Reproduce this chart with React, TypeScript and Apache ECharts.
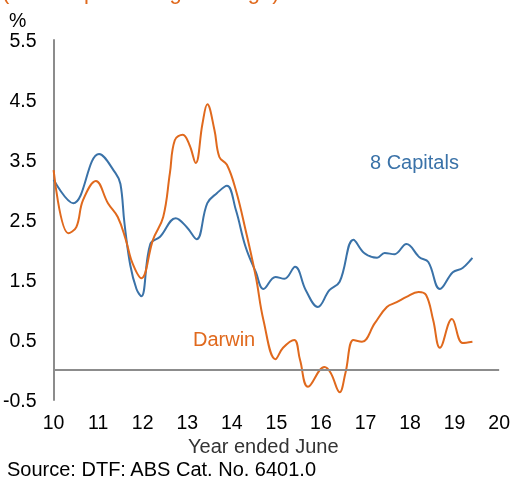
import React, { useEffect, useRef } from "react";
import * as echarts from "echarts";

const capitalsX = [10.0, 10.44, 11.02, 11.39, 11.5, 11.59, 11.72, 11.86, 11.97, 12.17, 12.39, 12.74, 12.99, 13.21, 13.45, 13.67, 13.89, 14.09, 14.31, 14.54, 14.71, 14.98, 15.18, 15.42, 15.66, 15.93, 16.19, 16.42, 16.73, 16.97, 17.26, 17.43, 17.65, 17.92, 18.21, 18.41, 18.67, 18.96, 19.18, 19.4];
const capitalsY = [3.17, 2.78, 3.6, 3.28, 3.1, 2.45, 1.75, 1.35, 1.23, 2.1, 2.22, 2.53, 2.38, 2.18, 2.78, 2.95, 3.07, 2.67, 2.05, 1.63, 1.35, 1.55, 1.52, 1.72, 1.33, 1.05, 1.33, 1.47, 2.17, 1.95, 1.87, 1.95, 1.93, 2.1, 1.88, 1.8, 1.35, 1.63, 1.7, 1.87];

const darwinX = [10.0, 10.33, 10.51, 10.66, 10.95, 11.22, 11.44, 11.62, 11.77, 11.97, 12.23, 12.46, 12.61, 12.72, 12.9, 13.05, 13.19, 13.34, 13.45, 13.61, 13.72, 13.89, 14.09, 14.31, 14.54, 14.71, 14.98, 15.15, 15.4, 15.53, 15.71, 16.08, 16.22, 16.42, 16.55, 16.73, 16.92, 17.21, 17.48, 17.7, 17.92, 18.19, 18.36, 18.52, 18.67, 18.94, 19.18, 19.4];
const darwinY = [3.33, 2.28, 2.38, 2.83, 3.15, 2.78, 2.55, 2.17, 1.78, 1.53, 2.17, 2.55, 3.28, 3.83, 3.92, 3.75, 3.45, 4.1, 4.43, 4.0, 3.55, 3.42, 3.0, 2.33, 1.55, 0.83, 0.18, 0.37, 0.5, 0.17, -0.28, 0.05, -0.05, -0.37, -0.05, 0.5, 0.47, 0.78, 1.05, 1.13, 1.22, 1.3, 1.25, 0.83, 0.37, 0.85, 0.45, 0.47];

const xTicks = { min: 10, max: 20, interval: 1 };
const yTicks = { min: -0.5, max: 5.5, interval: 0.5 };

const BLUE = "#3A72A8";
const ORANGE = "#E0691D";
const FONT = "'Liberation Sans', Arial, sans-serif";

export default function App() {
  const ref = useRef<HTMLDivElement>(null);
  useEffect(() => {
    if (!ref.current) return;
    const chart = echarts.init(ref.current, null, { renderer: "svg" });
    const pairs = (xs: number[], ys: number[]) => xs.map((x, i) => [x, ys[i]]);
    chart.setOption({
      animation: false,
      textStyle: { fontFamily: FONT },
      grid: { left: 52, right: 9, top: 40, height: 360 },
      xAxis: {
        type: "value",
        min: xTicks.min,
        max: xTicks.max,
        interval: xTicks.interval,
        axisLine: { show: false },
        axisTick: { show: false },
        splitLine: { show: false },
        axisLabel: { color: "#000", fontSize: 19.5, margin: 12, fontFamily: FONT },
      },
      yAxis: {
        type: "value",
        min: yTicks.min,
        max: yTicks.max,
        interval: yTicks.interval,
        axisLine: { show: true, lineStyle: { color: "#8c8c8c", width: 2 } },
        axisTick: { show: false },
        splitLine: { show: false },
        axisLabel: {
          color: "#000",
          fontSize: 19.5,
          margin: 17,
          fontFamily: FONT,
          formatter: (v: number) => (Math.round(v * 2) % 2 !== 0 ? v.toFixed(1) : ""),
        },
      },
      series: [
        {
          type: "line",
          name: "8 Capitals",
          data: pairs(capitalsX, capitalsY),
          smooth: 0.4,
          showSymbol: false,
          lineStyle: { color: BLUE, width: 2 },
          itemStyle: { color: BLUE },
          markLine: {
            silent: true,
            symbol: "none",
            label: { show: false },
            lineStyle: { color: "#8c8c8c", width: 2, type: "solid" },
            data: [{ yAxis: 0 }],
          },
          z: 3,
        },
        {
          type: "line",
          name: "Darwin",
          data: pairs(darwinX, darwinY),
          smooth: 0.4,
          showSymbol: false,
          lineStyle: { color: ORANGE, width: 2 },
          itemStyle: { color: ORANGE },
          z: 4,
        },
      ],
      graphic: [
        { type: "text", left: 2, top: -20, style: { text: "(Annual percentage change)", fill: ORANGE, fontSize: 22, fontFamily: FONT } },
        { type: "text", left: 9, top: 10, style: { text: "%", fill: "#000", fontSize: 19.5, fontFamily: FONT } },
        { type: "text", left: 370, top: 152, style: { text: "8 Capitals", fill: BLUE, fontSize: 20, fontFamily: FONT } },
        { type: "text", left: 193, top: 329, style: { text: "Darwin", fill: ORANGE, fontSize: 20, fontFamily: FONT } },
        { type: "text", left: 188, top: 436, style: { text: "Year ended June", fill: "#333", fontSize: 20, fontFamily: FONT } },
        { type: "text", left: 7, top: 459, style: { text: "Source: DTF: ABS Cat. No. 6401.0", fill: "#000", fontSize: 20, fontFamily: FONT } },
      ],
    });
    return () => chart.dispose();
  }, []);
  return <div ref={ref} style={{ position: "fixed", left: 0, top: 0, width: 513, height: 484 }} />;
}
